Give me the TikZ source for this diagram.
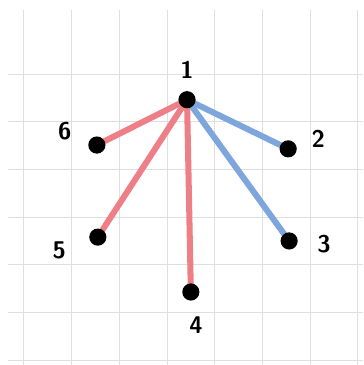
\documentclass[tikz,border=0pt]{standalone}
\usetikzlibrary{backgrounds}
\definecolor{edgered}{HTML}{EE7F86}
\definecolor{edgeblue}{HTML}{7FA6DC}
\tikzset{
  dot/.style={circle,fill=black,inner sep=0pt,minimum size=0.36cm},
  lbl/.style={font=\Large\sffamily\bfseries},
  redge/.style={edgered,line width=3.6pt,line cap=round},
  bedge/.style={edgeblue,line width=3.6pt,line cap=round},
}
\begin{document}
\begin{tikzpicture}[x=1cm,y=1cm]
\useasboundingbox (0,0) rectangle (7.61,7.65);
\node[dot] (n1) at (3.92,5.56) {};
\node[dot] (n2) at (6.04,4.53) {};
\node[dot] (n3) at (6.06,2.60) {};
\node[dot] (n4) at (4.00,1.53) {};
\node[dot] (n5) at (2.05,2.68) {};
\node[dot] (n6) at (2.03,4.61) {};
\node[lbl] (l1) at (3.92,6.18) {1};
\node[lbl] (l2) at (6.67,4.74) {2};
\node[lbl] (l3) at (6.79,2.54) {3};
\node[lbl] (l4) at (4.11,0.84) {4};
\node[lbl] (l5) at (1.24,2.41) {5};
\node[lbl] (l6) at (1.36,4.91) {6};
\begin{scope}[on background layer]
  \foreach \i in {0,...,7} \draw[gray!25,line width=0.5pt] (0.5+\i,0) -- (0.5+\i,7.44);
  \foreach \j in {0,...,6} \draw[gray!25,line width=0.5pt] (0.17,0.1+\j) -- (7.61,0.1+\j);
  \foreach \t in {4,5,6} \draw[redge] (n1.center) -- (n\t.center);
  \foreach \t in {2,3} \draw[bedge] (n1.center) -- (n\t.center);
\end{scope}
\end{tikzpicture}
\end{document}
